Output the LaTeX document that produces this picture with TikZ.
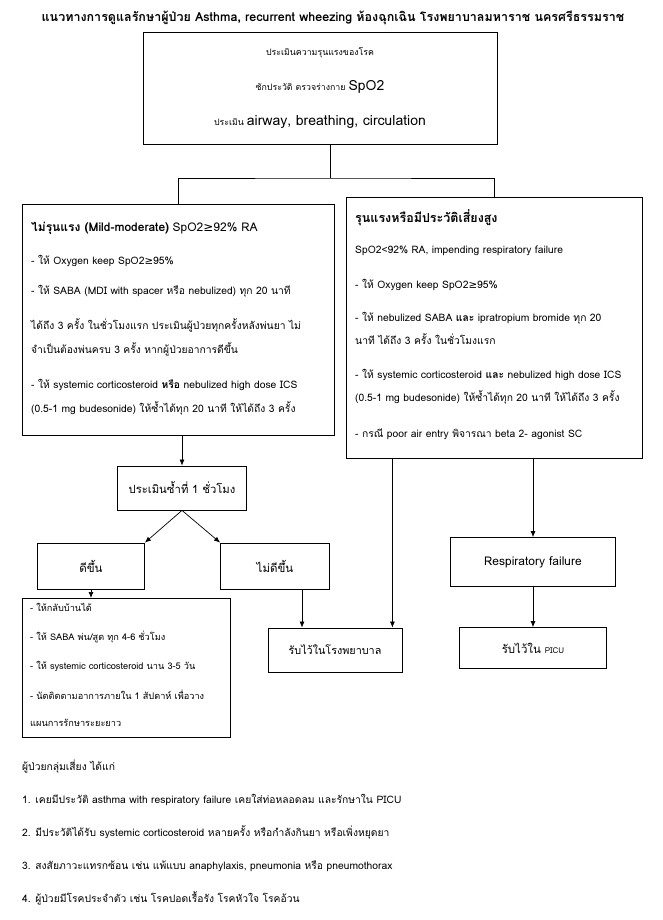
\documentclass[tikz,border=0pt]{standalone}
\usepackage{fontspec}
\setmainfont[Script=Thai]{Loma}
\newfontfamily\symfont{DejaVu Sans}
\usetikzlibrary{positioning,arrows.meta}
\newcommand{\gesign}{{\symfont ≥}}

\begin{document}
\begin{tikzpicture}[%
      x=1pt, y=-1pt,
      box/.style={rectangle, draw=black, line width=0.8pt, inner sep=0pt},
      txt/.style={align=left, inner sep=0pt, font=\fontsize{10.3}{24}\selectfont},
      arrow/.style={-{Latex[length=6pt,width=5pt]}, line width=0.7pt},
      link/.style={line width=0.7pt}
    ]
      \fill[white] (0,0) rectangle (663,920);
      \useasboundingbox (0,0) rectangle (663,920);

      % Title
      \node[font=\fontsize{12.5}{14}\selectfont\bfseries] (title) at (333,18) {แนวทางการดูแลรักษาผู้ป่วย Asthma, recurrent wheezing ห้องฉุกเฉิน โรงพยาบาลมหาราช นครศรีธรรมราช};

      % Assessment
      \node[box, minimum width=354pt, minimum height=112pt, align=center, font=\fontsize{8.8}{35}\selectfont] (assess) at (320,88) {ประเมินความรุนแรงของโรค\\ ซักประวัติ ตรวจร่างกาย {\fontsize{14}{35}\selectfont SpO2}\\ ประเมิน {\fontsize{14}{35}\selectfont airway, breathing, circulation}};

      % Mild-moderate
      \node[box, minimum width=312pt, minimum height=231pt, anchor=north west] (mild) at (22,204) {};
      \node[txt, below right=18pt and 9pt of mild.north west] (mildtext) {%
        {\fontsize{12}{24}\selectfont\bfseries ไม่รุนแรง (Mild-moderate)} {\fontsize{12}{24}\selectfont SpO2\gesign92\% RA}\\[9pt]
        - ให้ Oxygen keep SpO2\gesign95\%\\[6pt]
        - ให้ SABA (MDI with spacer หรือ nebulized) ทุก 20 นาที\\[11pt]
        ได้ถึง 3 ครั้ง ในชั่วโมงแรก ประเมินผู้ป่วยทุกครั้งหลังพ่นยา ไม่\\
        จำเป็นต้องพ่นครบ 3 ครั้ง หากผู้ป่วยอาการดีขึ้น\\[11pt]
        - ให้ systemic corticosteroid {\bfseries หรือ} nebulized high dose ICS\\
        (0.5-1 mg budesonide) ให้ซ้ำได้ทุก 20 นาที ให้ได้ถึง 3 ครั้ง};

      % Severe / high risk
      \node[box, minimum width=296pt, minimum height=261pt, anchor=north west] (severe) at (346,197) {};
      \node[txt, font=\fontsize{10.3}{23}\selectfont, below right=12pt and 9pt of severe.north west] (severetext) {%
        {\fontsize{12.5}{23}\selectfont\bfseries รุนแรงหรือมีประวัติเสี่ยงสูง}\\[8pt]
        SpO2<92\% RA, impending respiratory failure\\[12pt]
        - ให้ Oxygen keep SpO2\gesign95\%\\[10pt]
        - ให้ nebulized SABA {\bfseries และ} ipratropium bromide ทุก 20\\
        นาที ได้ถึง 3 ครั้ง ในชั่วโมงแรก\\[11pt]
        - ให้ systemic corticosteroid {\bfseries และ} nebulized high dose ICS\\
        (0.5-1 mg budesonide) ให้ซ้ำได้ทุก 20 นาที ให้ได้ถึง 3 ครั้ง\\[13pt]
        - กรณี poor air entry พิจารณา beta 2- agonist SC};

      % Reassessment and outcomes
      \node[box, minimum width=129pt, minimum height=44pt, font=\fontsize{11.3}{13}\selectfont] (reassess) at (182,488) {ประเมินซ้ำที่ 1 ชั่วโมง};
      \node[box, minimum width=107pt, minimum height=46pt, font=\fontsize{11.5}{13}\selectfont] (better) at (91,566) {ดีขึ้น};
      \node[box, minimum width=109pt, minimum height=46pt, font=\fontsize{11.5}{13}\selectfont] (worse) at (275,566) {ไม่ดีขึ้น};
      \node[box, minimum width=165pt, minimum height=49pt, font=\fontsize{12}{14}\selectfont] (resp) at (533,562) {Respiratory failure};
      \node[box, minimum width=134pt, minimum height=44pt, font=\fontsize{10.8}{13}\selectfont] (hosp) at (335,650) {รับไว้ในโรงพยาบาล};
      \node[box, minimum width=147pt, minimum height=41pt, font=\fontsize{11.5}{13}\selectfont] (picu) at (533,648) {รับไว้ใน {\fontsize{8}{9}\selectfont PICU}};

      % Discharge
      \node[box, minimum width=208pt, minimum height=139pt, anchor=north west] (home) at (22,598) {};
      \node[txt, font=\fontsize{9.2}{27}\selectfont, below right=5pt and 8pt of home.north west] (hometext) {%
        - ให้กลับบ้านได้\\[2pt]
        - ให้ SABA พ่น/สูด ทุก 4-6 ชั่วโมง\\[2pt]
        - ให้ systemic corticosteroid นาน 3-5 วัน\\[3pt]
        - นัดติดตามอาการภายใน 1 สัปดาห์ เพื่อวาง\\
        แผนการรักษาระยะยาว};

      % Risk groups
      \node[txt, font=\fontsize{10.3}{33}\selectfont, anchor=north west] (risk) at (22,760) {%
        ผู้ป่วยกลุ่มเสี่ยง ได้แก่\\
        1. เคยมีประวัติ asthma with respiratory failure เคยใส่ท่อหลอดลม และรักษาใน PICU\\
        2. มีประวัติได้รับ systemic corticosteroid หลายครั้ง หรือกำลังกินยา หรือเพิ่งหยุดยา\\
        3. สงสัยภาวะแทรกซ้อน เช่น แพ้แบบ anaphylaxis, pneumonia หรือ pneumothorax\\
        4. ผู้ป่วยมีโรคประจำตัว เช่น โรคปอดเรื้อรัง โรคหัวใจ โรคอ้วน};

      % Connections
      \coordinate (split) at (330,178);
      \draw[link] (assess.south -| split) -- (split);
      \draw[link] (mild.north) |- (split) -| (severe.north);
      \draw[arrow] (mild.south -| reassess.north) -- (reassess.north);
      \draw[arrow] (reassess.south) -- (better.north east);
      \draw[arrow] (reassess.south) -- (worse.north west);
      \draw[arrow] (better.south) -- (better.south |- home.north);
      \coordinate (worsedrop) at ([xshift=27pt]worse.south);
      \draw[arrow] (worsedrop) -- (worsedrop |- hosp.north);
      \coordinate (severedrop) at ([xshift=-102pt]severe.south);
      \draw[arrow] (severedrop) -- (severedrop |- hosp.north);
      \draw[arrow] (severe.south -| resp.north) -- (resp.north);
      \draw[arrow] (resp.south) -- (picu.north);
    \end{tikzpicture}
\end{document}
